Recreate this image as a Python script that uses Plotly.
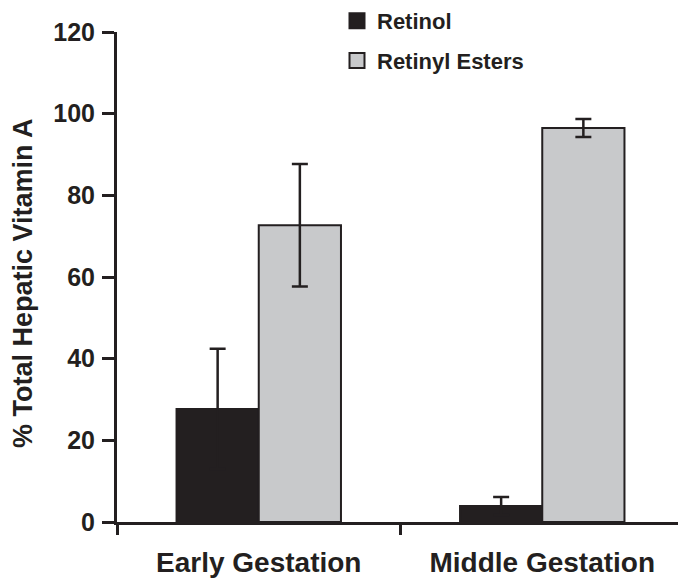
import plotly.graph_objects as go

categories = ["Early Gestation", "Middle Gestation"]
retinol = [27.7, 3.9]
retinol_err = [14.7, 2.2]
esters = [72.7, 96.5]
esters_err = [15.0, 2.2]
series_names = ["Retinol", "Retinyl Esters"]
y_ticks = [0, 20, 40, 60, 80, 100, 120]
y_title = "% Total Hepatic Vitamin A"

DARK = "#231f20"
GRAY = "#c8c9cb"
FONT = "Arial, Liberation Sans, sans-serif"

# page body has an 8px default margin; compensate in the layout
L, R, T, B = 109, 10, 24, 64
W, H = 686, 578
plot_w = W - L - R
plot_h = H - T - B

fig = go.Figure()
fig.add_trace(go.Bar(
    x=categories, y=retinol, name=series_names[0], showlegend=False,
    marker=dict(color=DARK, line=dict(color=DARK, width=2)),
    error_y=dict(type="data", array=retinol_err, visible=True, color=DARK, thickness=2.5, width=8),
))
fig.add_trace(go.Bar(
    x=categories, y=esters, name=series_names[1], showlegend=False,
    marker=dict(color=GRAY, line=dict(color=DARK, width=2)),
    error_y=dict(type="data", array=esters_err, visible=True, color=DARK, thickness=2.5, width=8),
))
# legend entries
for nm, col in zip(series_names, [DARK, GRAY]):
    fig.add_trace(go.Scatter(
        x=[None], y=[None], mode="markers", name=nm, legendgroup=nm,
        marker=dict(symbol="square", size=15, color=col, line=dict(color=DARK, width=2)),
    ))

fig.add_annotation(
    text=y_title, textangle=-90, xref="paper", yref="paper",
    x=(15 - L) / plot_w, y=1 - (275 - T) / plot_h, xanchor="center", yanchor="middle",
    showarrow=False, font=dict(size=27, family=FONT, color=DARK, weight="bold"),
)

fig.update_layout(
    width=W, height=H,
    margin=dict(l=L, r=R, t=T, b=B, autoexpand=False),
    paper_bgcolor="white", plot_bgcolor="white",
    barmode="group", bargap=0.42, bargroupgap=0,
    font=dict(family=FONT, color=DARK),
    showlegend=True,
    legend=dict(x=(329 - L) / plot_w, y=1 + (T + 8) / plot_h,
                xanchor="left", yanchor="top",
                font=dict(size=22, family=FONT, color=DARK, weight="bold"),
                tracegroupgap=8, bgcolor="rgba(0,0,0,0)", itemwidth=30),
    xaxis=dict(
        type="category", range=[-0.5, 1.5], showline=True, linecolor=DARK, linewidth=3,
        ticks="outside", tickson="boundaries", ticklen=10, tickwidth=3, tickcolor=DARK,
        tickfont=dict(size=28, family=FONT, color=DARK, weight="bold"),
        ticklabelstandoff=13, automargin=False,
        showgrid=False, zeroline=False,
    ),
    yaxis=dict(
        range=[0, 120], tickvals=y_ticks, showline=True, linecolor=DARK, linewidth=3,
        ticks="outside", ticklen=12, tickwidth=3, tickcolor=DARK,
        tickfont=dict(size=25, family=FONT, color=DARK, weight="bold"),
        ticklabelstandoff=2, automargin=False,
        showgrid=False, zeroline=False,
    ),
)

fig.write_html("out.html")
